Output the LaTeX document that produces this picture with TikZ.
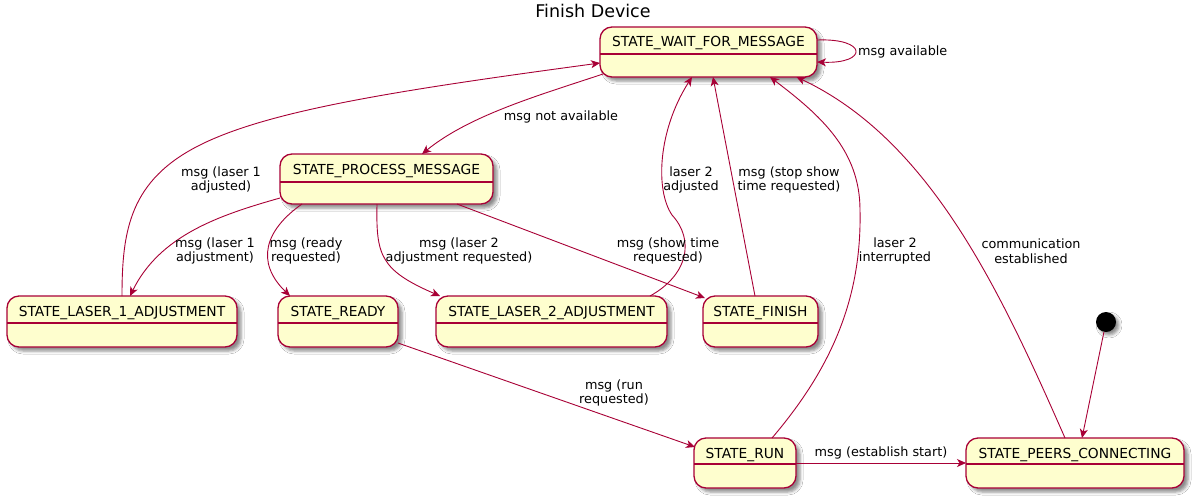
\documentclass[tikz,border=0pt]{standalone}
\usepackage{fontspec}
\setmainfont{DejaVu Sans}
\usetikzlibrary{arrows.meta,shadows.blur}
\definecolor{stfill}{HTML}{FEFECE}
\definecolor{stline}{HTML}{A80036}
\begin{document}
\begin{tikzpicture}[x=1pt,y=-1pt,
  statebox/.style={draw=stline, fill=stfill, line width=1.3pt, rounded corners=12pt, inner sep=0pt, outer sep=0pt,
    blur shadow={shadow xshift=4pt, shadow yshift=-4pt, shadow blur radius=3pt, shadow opacity=45}},
  stname/.style={font=\fontsize{13.8}{16}\selectfont, inner sep=0pt, anchor=base},
  divline/.style={draw=stline, line width=1.3pt},
  edge/.style={draw=stline, line width=0.9pt, -{Stealth[length=9pt,width=8pt,inset=2.5pt]}},
  lbl/.style={font=\fontsize{12.8}{14.5}\selectfont, align=center, inner sep=0pt}]
\useasboundingbox (0,0) rectangle (1197,501);
\fill[white] (0,0) rectangle (1197,501);

\node[font=\fontsize{17.5}{20}\selectfont, inner sep=0pt] (title) at (593,11) {Finish Device};

% states
\node[statebox, minimum width=217pt, minimum height=50pt] (wait) at (708.5,52) {};
\draw[divline] (wait.west |- 0,54) -- (wait.east |- 0,54);
\node[stname] (waitT) at (708.5,46.7) {STATE\_WAIT\_FOR\_MESSAGE};

\node[statebox, minimum width=213pt, minimum height=50pt] (process) at (386.5,179) {};
\draw[divline] (process.west |- 0,182) -- (process.east |- 0,182);
\node[stname] (processT) at (386.5,174) {STATE\_PROCESS\_MESSAGE};

\node[statebox, minimum width=230pt, minimum height=51pt] (laserA) at (122,321.5) {};
\draw[divline] (laserA.west |- 0,323) -- (laserA.east |- 0,323);
\node[stname] (laserAT) at (122,316) {STATE\_LASER\_1\_ADJUSTMENT};

\node[statebox, minimum width=120pt, minimum height=51pt] (ready) at (338,321.5) {};
\draw[divline] (ready.west |- 0,323) -- (ready.east |- 0,323);
\node[stname] (readyT) at (338,316) {STATE\_READY};

\node[statebox, minimum width=231pt, minimum height=51pt] (laserB) at (551.5,321.5) {};
\draw[divline] (laserB.west |- 0,323) -- (laserB.east |- 0,323);
\node[stname] (laserBT) at (551.5,316) {STATE\_LASER\_2\_ADJUSTMENT};

\node[statebox, minimum width=115pt, minimum height=51pt] (finish) at (760.5,321.5) {};
\draw[divline] (finish.west |- 0,323) -- (finish.east |- 0,323);
\node[stname] (finishT) at (760.5,316) {STATE\_FINISH};

\node[statebox, minimum width=102pt, minimum height=50pt] (run) at (745,463) {};
\draw[divline] (run.west |- 0,464) -- (run.east |- 0,464);
\node[stname] (runT) at (745,458) {STATE\_RUN};

\node[statebox, minimum width=218pt, minimum height=50pt] (peers) at (1075,463) {};
\draw[divline] (peers.west |- 0,464) -- (peers.east |- 0,464);
\node[stname] (peersT) at (1075,458) {STATE\_PEERS\_CONNECTING};

\node[circle, fill=black, minimum size=20pt, inner sep=0pt,
  blur shadow={shadow xshift=3pt, shadow yshift=-3pt, shadow blur radius=3pt, shadow opacity=45}] (init) at (1106,322) {};

% edges
\draw[edge] ([yshift=12pt]wait.east) .. controls (868,38) and (868,64) .. ([yshift=-10pt]wait.east);
\draw[edge] ([xshift=3pt,yshift=3pt]wait.south west) .. controls (540,95) and (470,115) .. ([xshift=35.5pt]process.north);
\draw[edge] (laserA.north) .. controls (122,230) and (130,180) .. (200,145) .. controls (270,110) and (400,90) .. ([yshift=-11pt]wait.west);
\draw[edge] ([yshift=6pt]process.south west) .. controls (220,215) and (160,235) .. ([xshift=8pt]laserA.north);
\draw[edge] ([xshift=-84.5pt]process.south) .. controls (265,230) and (255,262) .. ([xshift=-48pt]ready.north);
\draw[edge] ([xshift=-9.5pt]process.south) .. controls (376,255) and (380,270) .. ([xshift=-111.5pt]laserB.north);
\draw[edge] ([xshift=70.5pt]process.south) -- ([xshift=2pt,yshift=-2pt]finish.north west);
\draw[edge] ([xshift=98.5pt]laserB.north) .. controls (688,275) and (695,240) .. (672,215) .. controls (655,190) and (658,130) .. ([xshift=-16.5pt]wait.south);
\draw[edge] ([xshift=-5.5pt]finish.north) -- ([xshift=4.5pt]wait.south);
\draw[edge] ([xshift=27pt]run.north) .. controls (830,370) and (862,300) .. (860,210) .. controls (860,150) and (820,115) .. ([xshift=61.5pt]wait.south);
\draw[edge] ([xshift=-10pt]peers.north) .. controls (1000,290) and (930,140) .. ([xshift=88pt]wait.south);
\draw[edge] ([yshift=4pt]ready.south east) -- ([xshift=1pt,yshift=-9pt]run.north west);
\draw[edge] (run.east) -- (peers.west);
\draw[edge] (init) -- ([xshift=7pt]peers.north);

% labels
\node[lbl, anchor=west] (l1) at (858,52) {msg available};
\node[lbl] (l2) at (561,117) {msg not available};
\node[lbl] (l3) at (221,180) {msg (laser 1\\adjusted)};
\node[lbl] (l4) at (215,251) {msg (laser 1\\adjustment)};
\node[lbl] (l5) at (306,251) {msg (ready\\requested)};
\node[lbl] (l6) at (459,251) {msg (laser 2\\adjustment requested)};
\node[lbl] (l7) at (668,251) {msg (show time\\requested)};
\node[lbl] (l8) at (691,180) {laser 2\\adjusted};
\node[lbl] (l9) at (789,180) {msg (stop show\\time requested)};
\node[lbl] (l10) at (895,251) {laser 2\\interrupted};
\node[lbl] (l11) at (1031,251) {communication\\established};
\node[lbl] (l12) at (614,393) {msg (run\\requested)};
\node[lbl] (l13) at (881,453) {msg (establish start)};
\end{tikzpicture}
\end{document}
